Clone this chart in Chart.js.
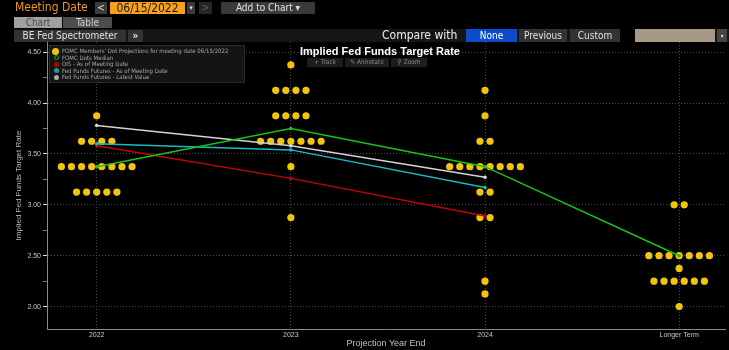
<!DOCTYPE html>
<html>
<head>
<meta charset="utf-8">
<script src="https://cdn.jsdelivr.net/npm/chart.js@4"></script>
<style>
body{margin:0;background:#000;font-family:'DejaVu Sans Condensed','DejaVu Sans',sans-serif;}
#wrap{position:relative;width:729px;height:350px;overflow:hidden;background:#000;}
#wrap div{position:absolute;box-sizing:border-box;white-space:nowrap;}
canvas{position:absolute;left:0;top:0;}
.btn{background:#3a3a3a;color:#e0e0e0;font-size:10px;height:12px;line-height:12px;text-align:center;}
.leg{left:4px;font-size:6px;line-height:6.5px;color:#a8a8a8;height:6.5px;}
.leg i{display:inline-block;border-radius:50%;vertical-align:middle;margin-right:3px;}
.tool{top:58px;height:9px;line-height:9px;background:#1d1d1d;color:#8a8a8a;font-size:6.5px;text-align:center;}
</style>
</head>
<body>
<div id="wrap">
  <canvas id="grafico" width="729" height="350"></canvas>

  <!-- barra de cima -->
  <div style="left:15px;top:0px;font-size:12px;line-height:15px;color:#f0961e;">Meeting Date</div>
  <div class="btn" style="left:95px;top:2px;width:12px;">&lt;</div>
  <div class="btn" style="left:110px;top:2px;width:75px;background:#f7a01c;color:#1a1a1a;font-size:12px;">06/15/2022</div>
  <div class="btn" style="left:187px;top:2px;width:8px;font-size:7px;">▾</div>
  <div class="btn" style="left:199px;top:2px;width:13px;background:#262626;color:#666;">&gt;</div>
  <div class="btn" style="left:221px;top:2px;width:94px;">Add to Chart ▾</div>

  <div class="btn" style="left:14px;top:17px;width:48px;height:11px;line-height:11px;background:#a0a0a0;color:#4a4a4a;">Chart</div>
  <div class="btn" style="left:63px;top:17px;width:49px;height:11px;line-height:11px;background:#4d4d4d;color:#cfcfcf;">Table</div>

  <div style="left:14px;top:29px;width:715px;height:13px;background:#151515;"></div>
  <div class="btn" style="left:14px;top:30px;width:112px;background:#333;">BE Fed Spectrometer</div>
  <div class="btn" style="left:128px;top:30px;width:15px;background:#333;font-weight:bold;">»</div>
  <div style="left:382px;top:28px;font-size:12px;line-height:14px;color:#eee;">Compare with</div>
  <div class="btn" style="left:466px;top:29px;width:51px;height:13px;line-height:13px;background:#0a4ccc;color:#fff;">None</div>
  <div class="btn" style="left:519px;top:29px;width:48px;height:13px;line-height:13px;background:#333;">Previous</div>
  <div class="btn" style="left:570px;top:29px;width:50px;height:13px;line-height:13px;background:#333;">Custom</div>
  <div style="left:620px;top:29px;width:15px;height:13px;background:#000;"></div>
  <div style="left:635px;top:29px;width:80px;height:13px;background:#a89986;"></div>
  <div class="btn" style="left:717px;top:29px;width:10px;height:13px;line-height:13px;background:#444;font-size:6px;">▾</div>

  <!-- titulo e ferramentas -->
  <div style="left:300px;top:45px;font-family:'Liberation Sans',Arial,sans-serif;font-weight:bold;font-size:11px;line-height:13px;color:#fff;">Implied Fed Funds Target Rate</div>
  <div class="tool" style="left:307px;width:36px;">+ Track</div>
  <div class="tool" style="left:345px;width:44px;">✎ Annotate</div>
  <div class="tool" style="left:391px;width:36px;">⚲ Zoom</div>

  <!-- legenda -->
  <div style="left:49px;top:45px;width:196px;height:38px;background:#141414;border:1px solid #2b2b2b;">
    <div class="leg" style="top:2px;left:2px;"><i style="width:7px;height:7px;background:#f3c40f;"></i>FOMC Members' Dot Projections for meeting date 06/15/2022</div>
    <div class="leg" style="top:8.5px;"><i style="width:5px;height:5px;border:1.2px solid #1db01d;box-sizing:border-box;"></i>FOMC Dots Median</div>
    <div class="leg" style="top:15px;"><i style="width:5px;height:5px;background:#b00000;"></i>OIS - As of Meeting Date</div>
    <div class="leg" style="top:21.5px;"><i style="width:5px;height:5px;background:#14a0a8;"></i>Fed Funds Futures - As of Meeting Date</div>
    <div class="leg" style="top:28px;"><i style="width:5px;height:5px;background:#aaa;"></i>Fed Funds Futures - Latest Value</div>
  </div>
</div>

<script>
// Dados
const categories = ['2022', '2023', '2024', 'Longer Term'];

// projecoes dos membros do FOMC (uma por participante)
const dots2022 = [3.875,
  3.625, 3.625, 3.625, 3.625,
  3.375, 3.375, 3.375, 3.375, 3.375, 3.375, 3.375, 3.375,
  3.125, 3.125, 3.125, 3.125, 3.125];
const dots2023 = [4.375,
  4.125, 4.125, 4.125, 4.125,
  3.875, 3.875, 3.875, 3.875,
  3.625, 3.625, 3.625, 3.625, 3.625, 3.625, 3.625,
  3.375,
  2.875];
const dots2024 = [4.125,
  3.875,
  3.625, 3.625,
  3.375, 3.375, 3.375, 3.375, 3.375, 3.375, 3.375, 3.375,
  3.125, 3.125,
  2.875, 2.875,
  2.25,
  2.125];
const dotsLonger = [3.0, 3.0,
  2.5, 2.5, 2.5, 2.5, 2.5, 2.5, 2.5,
  2.375,
  2.25, 2.25, 2.25, 2.25, 2.25, 2.25,
  2.0];

const fomcMedian = [3.375, 3.75, 3.375, 2.5];
const oisMeeting = [3.58, 3.26, 2.89];
const ffMeeting = [3.60, 3.54, 3.17];
const ffLatest = [3.78, 3.58, 3.27];

const DOT_GAP = 0.052; // espaco entre bolinhas iguais

// espalha as bolinhas com mesmo valor lado a lado
const dotPoints = [];
[dots2022, dots2023, dots2024, dotsLonger].forEach((arr, i) => {
  const counts = {};
  arr.forEach(v => counts[v] = (counts[v] || 0) + 1);
  Object.keys(counts).forEach(k => {
    const n = counts[k];
    for (let j = 0; j < n; j++) {
      dotPoints.push({x: i + (j - (n - 1) / 2) * DOT_GAP, y: +k});
    }
  });
});

const toXY = arr => arr.map((v, i) => ({x: i, y: v}));
const isStep = (v, s) => Math.abs(v / s - Math.round(v / s)) < 1e-6;

function linha(label, values, color) {
  return {
    label: label,
    data: toXY(values),
    showLine: true,
    borderColor: color,
    backgroundColor: color,
    borderWidth: 1.5,
    pointRadius: 1.8,
    pointBorderWidth: 0
  };
}

const ctx = document.getElementById('grafico').getContext('2d');
const grafico = new Chart(ctx, {
  type: 'scatter',
  data: {
    datasets: [
      linha('FOMC Dots Median', fomcMedian, '#17c417'),
      linha('Fed Funds Futures - Latest Value', ffLatest, '#d4d4d4'),
      linha('Fed Funds Futures - As of Meeting Date', ffMeeting, '#18bcc6'),
      linha('OIS - As of Meeting Date', oisMeeting, '#c80000'),
      {
        label: "FOMC Members' Dot Projections for meeting date 06/15/2022",
        data: dotPoints,
        backgroundColor: '#f3c40f',
        borderWidth: 0,
        pointRadius: 3.6
      }
    ]
  },
  options: {
    responsive: false,
    animation: false,
    layout: {padding: {top: 42, right: 0, left: 0, bottom: 0}},
    plugins: {
      legend: {display: false},
      tooltip: {enabled: false}
    },
    scales: {
      x: {
        type: 'linear',
        min: -0.256,
        max: 3.236,
        afterBuildTicks: s => { s.ticks = categories.map((c, i) => ({value: i})); },
        afterFit: s => { s.height = 21; },
        grid: {color: '#4a4a4a', drawTicks: false},
        border: {color: '#8a8a8a', dash: [1, 2]},
        ticks: {
          color: '#c8c8c8',
          font: {size: 7},
          padding: 2,
          maxRotation: 0,
          autoSkip: false,
          callback: v => categories[v]
        },
        title: {
          display: true,
          text: 'Projection Year End',
          color: '#c0c0c0',
          font: {size: 9},
          padding: {top: 0, bottom: 1}
        }
      },
      y: {
        min: 1.78,
        max: 4.6,
        afterFit: s => { s.width = 47; },
        grid: {
          color: c => isStep(c.tick.value, 0.5) ? '#4a4a4a' : 'transparent',
          tickColor: c => isStep(c.tick.value, 0.5) ? '#e0e0e0' : (isStep(c.tick.value, 0.25) ? '#777' : 'transparent'),
          tickLength: 4
        },
        border: {color: '#8a8a8a', dash: [1, 2]},
        ticks: {
          stepSize: 0.25,
          autoSkip: false,
          color: '#c8c8c8',
          font: {size: 7},
          padding: 2,
          callback: v => isStep(v, 0.5) ? v.toFixed(2) : ''
        },
        title: {
          display: true,
          text: 'Implied Fed Funds Target Rate',
          color: '#b8b8b8',
          font: {size: 8},
          padding: {top: 14, bottom: 0}
        }
      }
    }
  }
});
</script>
</body>
</html>
